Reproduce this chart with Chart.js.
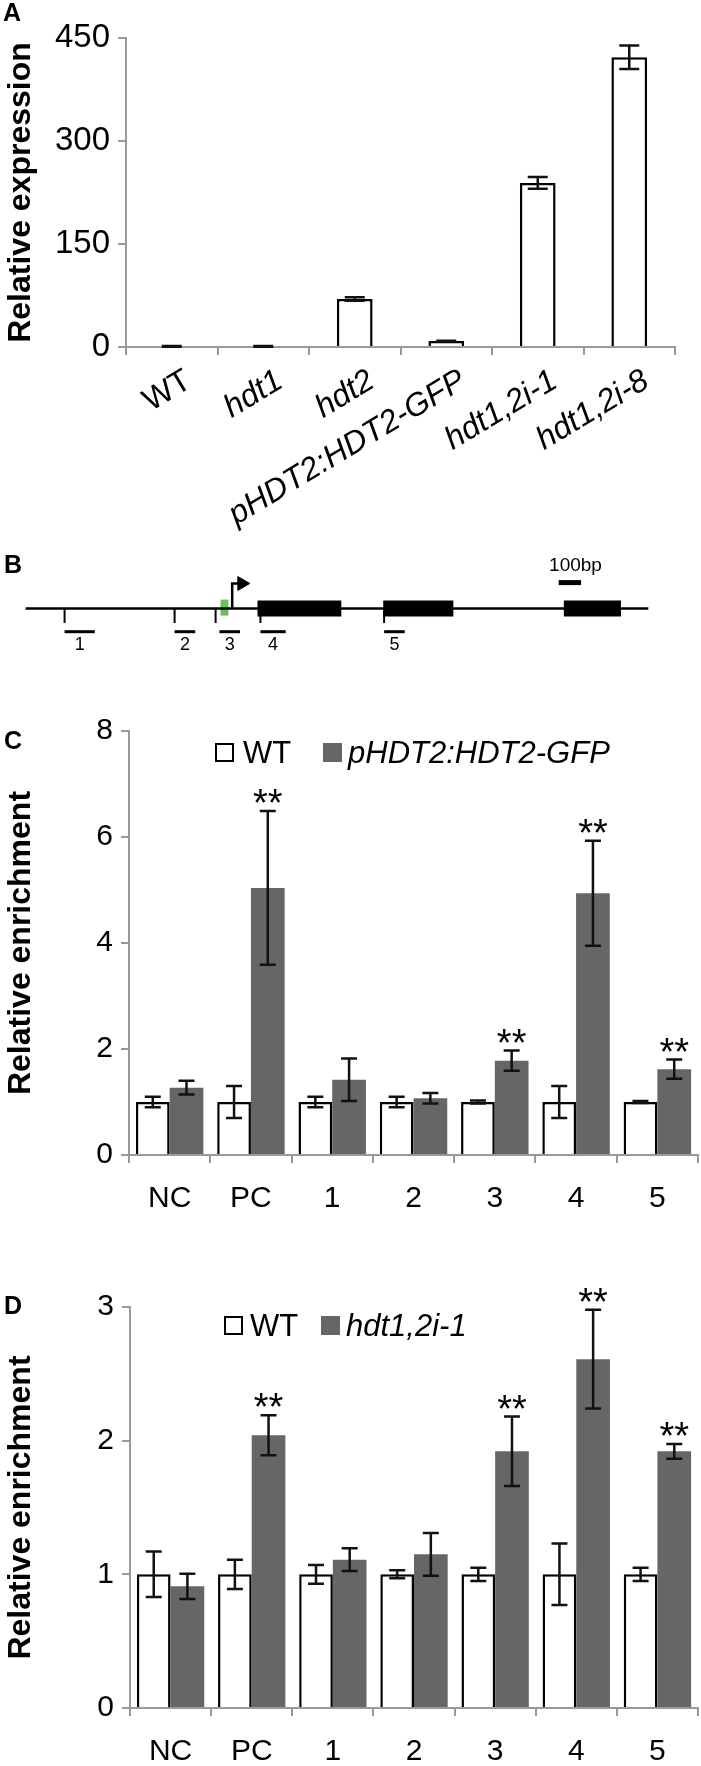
<!DOCTYPE html>
<html><head><meta charset="utf-8">
<script src="https://cdn.jsdelivr.net/npm/chart.js@4/dist/chart.umd.min.js"></script>
<style>
html,body{margin:0;padding:0;background:#fff;}
body{width:701px;height:1766px;position:relative;overflow:hidden;font-family:"Liberation Sans",Arial,sans-serif;}
.cv{position:absolute;left:0;}
.lab{position:absolute;font-weight:bold;font-size:25px;color:#000;line-height:1;}
.leg{position:absolute;font-size:31px;line-height:1;white-space:nowrap;color:#000;}
.box{position:absolute;width:19px;height:19px;box-sizing:border-box;}
</style></head><body>
<canvas id="cA" class="cv" style="top:0px" width="701" height="540"></canvas>
<canvas id="cB" class="cv" style="top:540px" width="701" height="130"></canvas>
<canvas id="cC" class="cv" style="top:670px" width="701" height="560"></canvas>
<canvas id="cD" class="cv" style="top:1230px" width="701" height="536"></canvas>

<div class="lab" style="left:3px;top:0px">A</div>
<div class="lab" style="left:4px;top:552px">B</div>
<div class="lab" style="left:4px;top:728px">C</div>
<div class="lab" style="left:4px;top:1293px">D</div>

<div class="box" style="left:215px;top:743px;border:2px solid #000;background:#fff"></div>
<div class="leg" style="left:243px;top:737px">WT</div>
<div class="box" style="left:323px;top:743px;background:#666"></div>
<div class="leg" style="left:348px;top:737px;font-style:italic">pHDT2:HDT2-GFP</div>

<div class="box" style="left:224px;top:1316px;border:2px solid #000;background:#fff"></div>
<div class="leg" style="left:250px;top:1310px">WT</div>
<div class="box" style="left:321px;top:1316px;background:#666"></div>
<div class="leg" style="left:346px;top:1310px;font-style:italic">hdt1,2i-1</div>

<script>
// ---------- Panel A data ----------
const catsA = ['WT','hdt1','hdt2','pHDT2:HDT2-GFP','hdt1,2i-1','hdt1,2i-8'];
const valsA = [1, 1, 70, 8.7, 239, 422];
const errA  = [0.5, 0.5, 2.5, 0.5, 8.5, 17];
const yTicksA = [0, 150, 300, 450];

// ---------- Panel B data (bp, relative to TSS) ----------
const geneSpan = [-922, 1857];
const exons = [[113, 487], [674, 987], [1480, 1735]];
const greenBox = [-52, -17];
const primerTicks = [-748, -257, -74, 126, 678];
const primerBars = [[-748, -613], [-257, -165], [-57, 35], [126, 239], [678, 770]];
const primerNames = ['1','2','3','4','5'];
const scaleBar = [1457, 1557];
const scaleLabel = '100bp';

// ---------- Panel C data ----------
const catsCD = ['NC','PC','1','2','3','4','5'];
const wtC     = [1, 1, 1, 1, 1, 1, 1];
const wtErrC  = [0.1, 0.3, 0.1, 0.1, 0.03, 0.3, 0.02];
const gfpC    = [1.27, 5.04, 1.42, 1.07, 1.78, 4.94, 1.62];
const gfpErrC = [0.13, 1.45, 0.4, 0.1, 0.19, 0.99, 0.18];
const sigC    = ['', '**', '', '', '**', '**', '**'];
const yTicksC = [0, 2, 4, 6, 8];

// ---------- Panel D data ----------
const wtD     = [1, 1, 1, 1, 1, 1, 1];
const wtErrD  = [0.17, 0.11, 0.07, 0.03, 0.05, 0.23, 0.05];
const hdtD    = [0.91, 2.04, 1.11, 1.15, 1.92, 2.61, 1.92];
const hdtErrD = [0.095, 0.15, 0.085, 0.16, 0.26, 0.37, 0.055];
const sigD    = ['', '**', '', '', '**', '**', '**'];
const yTicksD = [0, 1, 2, 3];

const FONT = '"Liberation Sans", Arial, sans-serif';
const AXIS = '#999999';
const GREY = '#666666';

const errPlugin = {
  id: 'errbars',
  afterDatasetsDraw(chart) {
    const ctx = chart.ctx, ys = chart.scales.y;
    const cap = chart.options.plugins.errbars.cap;
    chart.data.datasets.forEach((ds, i) => {
      if (!ds.errors) return;
      const meta = chart.getDatasetMeta(i);
      meta.data.forEach((bar, j) => {
        const v = ds.data[j], e = ds.errors[j];
        const top = ys.getPixelForValue(v + e), bot = ys.getPixelForValue(v - e);
        const x = bar.x;
        ctx.save();
        ctx.strokeStyle = '#111'; ctx.lineWidth = 2.5;
        ctx.beginPath();
        ctx.moveTo(x, top); ctx.lineTo(x, bot);
        ctx.moveTo(x - cap, top); ctx.lineTo(x + cap, top);
        ctx.moveTo(x - cap, bot); ctx.lineTo(x + cap, bot);
        ctx.stroke();
        if (ds.sig && ds.sig[j]) {
          ctx.fillStyle = '#000';
          ctx.font = '38px ' + FONT;
          ctx.textAlign = 'center'; ctx.textBaseline = 'alphabetic';
          ctx.fillText(ds.sig[j], x, top + 5);
        }
        ctx.restore();
      });
    });
  }
};

function fixY(w, list) {
  return {
    afterFit: s => { s.width = w; },
    afterBuildTicks: s => { s.ticks = list.map(v => ({value: v})); }
  };
}

function axisCommon() {
  return {
    border: {display: true, color: AXIS, width: 2},
    grid: {display: true, drawOnChartArea: false, drawTicks: true, tickLength: 8, color: AXIS, lineWidth: 2}
  };
}

// ---------- Chart A ----------
new Chart(document.getElementById('cA'), {
  type: 'bar',
  data: {labels: catsA, datasets: [{
    data: valsA, errors: errA, backgroundColor: '#fff', borderColor: '#000', borderWidth: 2.5,
    categoryPercentage: 1, barPercentage: 0.39
  }]},
  options: {
    responsive: false, animation: false, devicePixelRatio: 1,
    layout: {padding: {top: 38, right: 26, left: 0, bottom: 0}},
    plugins: {legend: {display: false}, tooltip: {enabled: false}, errbars: {cap: 10}},
    scales: {
      x: Object.assign(axisCommon(), {
        afterFit: s => { s.height = 193; },
        ticks: {autoSkip: false, minRotation: 31, maxRotation: 31, padding: 7, labelOffset: 17, color: '#000',
          font: c => ({family: FONT, size: 32, style: c.index === 0 ? 'normal' : 'italic'})}
      }),
      y: Object.assign(axisCommon(), fixY(126, yTicksA), {
        min: 0, max: 450,
        ticks: {padding: 8, color: '#000', font: {family: FONT, size: 33}},
        title: {display: true, text: 'Relative expression', color: '#000', padding: {top: 2, bottom: 0},
          font: {family: FONT, size: 32, weight: 'bold'}}
      })
    }
  },
  plugins: [errPlugin]
});

// ---------- Chart B (gene diagram) ----------
const LV = {arrowTop: 40, scale: 39, backbone: 69, tickEnd: 86, primer: 96, label: 112, labelTop: 20};
const seg = (a, b, y) => [{x: a, y: y}, {x: b, y: y}];
const bDatasets = [];
bDatasets.push({data: seg(geneSpan[0], geneSpan[1], LV.backbone), borderColor: '#000', borderWidth: 2.5});
exons.forEach(e => bDatasets.push({data: seg(e[0], e[1], LV.backbone), borderColor: '#000', borderWidth: 16}));
bDatasets.push({data: seg(greenBox[0], greenBox[1], LV.backbone - 1), borderColor: '#6cbf5c', borderWidth: 16});
primerTicks.forEach(t => bDatasets.push({data: [{x: t, y: LV.backbone}, {x: t, y: LV.tickEnd}], borderColor: '#000', borderWidth: 2}));
primerBars.forEach(p => bDatasets.push({data: seg(p[0], p[1], LV.primer), borderColor: '#000', borderWidth: 3}));
bDatasets.push({data: [{x: 0, y: LV.backbone}, {x: 0, y: LV.arrowTop}, {x: 26, y: LV.arrowTop}], borderColor: '#000', borderWidth: 2.5, borderJoinStyle: 'miter'});
bDatasets.push({data: [{x: 43, y: LV.arrowTop}], showLine: false, pointStyle: 'triangle', rotation: 90,
  pointRadius: 8, backgroundColor: '#000', borderColor: '#000', borderWidth: 1});
bDatasets.push({data: seg(scaleBar[0], scaleBar[1], LV.scale), borderColor: '#000', borderWidth: 5});
bDatasets.forEach(d => { if (d.showLine === undefined) d.showLine = true; if (d.pointRadius === undefined) d.pointRadius = 0; });

const bText = {
  id: 'btext',
  afterDatasetsDraw(chart) {
    const ctx = chart.ctx, xs = chart.scales.x, ys = chart.scales.y;
    ctx.save();
    ctx.fillStyle = '#000'; ctx.textAlign = 'center'; ctx.textBaseline = 'middle';
    ctx.font = '18px ' + FONT;
    primerBars.forEach((p, i) => ctx.fillText(primerNames[i], xs.getPixelForValue((p[0] + p[1]) / 2), ys.getPixelForValue(LV.label)));
    ctx.font = '19px ' + FONT;
    ctx.fillText(scaleLabel, xs.getPixelForValue(scaleBar[0] + 75), ys.getPixelForValue(LV.labelTop));
    ctx.restore();
  }
};

new Chart(document.getElementById('cB'), {
  type: 'scatter',
  data: {datasets: bDatasets},
  options: {
    responsive: false, animation: false, devicePixelRatio: 1,
    layout: {padding: 0},
    plugins: {legend: {display: false}, tooltip: {enabled: false}},
    scales: {
      x: {type: 'linear', display: false, min: -996, max: 2052},
      y: {type: 'linear', display: false, min: 0, max: 130, reverse: true}
    }
  },
  plugins: [bText]
});

// ---------- Chart C & D ----------
function pairChart(id, wt, wtErr, mut, mutErr, sig, ticks, maxY, yW, padTop, xH) {
  return new Chart(document.getElementById(id), {
    type: 'bar',
    data: {labels: catsCD, datasets: [
      {data: wt, errors: wtErr, backgroundColor: '#fff', borderColor: '#000', borderWidth: 2.5,
        categoryPercentage: 0.83, barPercentage: 1},
      {data: mut, errors: mutErr, sig: sig, backgroundColor: GREY, borderWidth: 0,
        categoryPercentage: 0.83, barPercentage: 1}
    ]},
    options: {
      responsive: false, animation: false, devicePixelRatio: 1,
      layout: {padding: {top: padTop, right: 3, left: 0, bottom: 0}},
      plugins: {legend: {display: false}, tooltip: {enabled: false}, errbars: {cap: 8}},
      scales: {
        x: Object.assign(axisCommon(), {
          afterFit: s => { s.height = xH; },
          ticks: {autoSkip: false, maxRotation: 0, padding: 18, color: '#000', font: {family: FONT, size: 30}}
        }),
        y: Object.assign(axisCommon(), fixY(yW, ticks), {
          min: 0, max: maxY,
          ticks: {padding: 8, color: '#000', font: {family: FONT, size: 30}},
          title: {display: true, text: 'Relative enrichment', color: '#000', padding: {top: 2, bottom: 0},
            font: {family: FONT, size: 32, weight: 'bold'}}
        })
      }
    },
    plugins: [errPlugin]
  });
}
pairChart('cC', wtC, wtErrC, gfpC, gfpErrC, sigC, yTicksC, 8, 129, 61, 75);
pairChart('cD', wtD, wtErrD, hdtD, hdtErrD, sigD, yTicksD, 3, 130, 77, 58);
</script>
</body></html>
